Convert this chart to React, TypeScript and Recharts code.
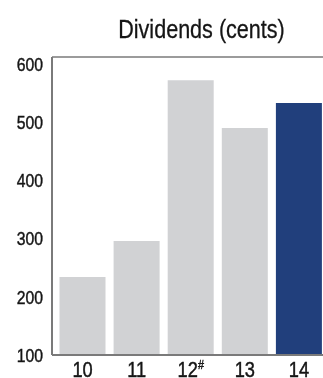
import React from "react";
import { BarChart, Bar, XAxis, YAxis, Cell, ReferenceLine, Customized } from "recharts";

const years = ["10", "11", "12#", "13", "14"];
const dividends = [234, 296, 572, 490, 533];
const highlight = [false, false, false, false, true];
const yTicks = [100, 200, 300, 400, 500, 600];
const title = "Dividends (cents)";

const data = years.map((y, i) => ({ year: y, value: dividends[i], hi: highlight[i] }));

const FONT = "'Liberation Sans', Arial, sans-serif";
const SX = 0.83;
const GREY = "#d1d2d4";
const BLUE = "#213f7c";
const AXIS = "#7a7a7a";
const TEXT = "#151515";
const THICK = 0.45;

const XTick = (props: any) => {
  const { x, y, payload } = props;
  const v: string = payload.value;
  const hasSup = v.endsWith("#");
  const main = hasSup ? v.slice(0, -1) : v;
  return (
    <text
      transform={`translate(${x},${y}) scale(${SX},1)`}
      x={0}
      y={0}
      dy="0.71em"
      textAnchor="middle"
      fontFamily={FONT}
      fontSize={22}
      fill={TEXT}
      stroke={TEXT}
      strokeWidth={THICK}
    >
      <tspan>{main}</tspan>
      {hasSup && (
        <tspan fontSize={13} dy="-0.55em">#</tspan>
      )}
    </text>
  );
};

const YTick = (props: any) => {
  const { x, y, payload } = props;
  return (
    <text
      transform={`translate(${x},${y}) scale(${SX},1)`}
      x={0}
      y={0}
      dy="0.355em"
      textAnchor="end"
      fontFamily={FONT}
      fontSize={19}
      fill={TEXT}
      stroke={TEXT}
      strokeWidth={THICK}
    >
      {payload.value}
    </text>
  );
};

export default function App() {
  return (
    <div style={{ position: "fixed", left: 0, top: 0, width: 323, height: 378, overflow: "hidden" }}>
      <BarChart
        width={326}
        height={378}
        data={data}
        margin={{ top: 57, right: 0, bottom: 0, left: 0 }}
      >
        <Customized
          component={() => (
            <text
              transform={`translate(201.5,38) scale(${SX},1)`}
              x={0}
              y={0}
              textAnchor="middle"
              fontFamily={FONT}
              fontSize={26}
              fill={TEXT}
              stroke={TEXT}
              strokeWidth={0.3}
            >
              {title}
            </text>
          )}
        />
        <XAxis
          dataKey="year"
          tickLine={false}
          tickSize={0}
          tickMargin={6}
          axisLine={{ stroke: AXIS, strokeWidth: 2 }}
          padding={{ left: 3.5, right: 0 }}
          tick={<XTick />}
          height={23}
          interval={0}
        />
        <YAxis
          domain={[100, 612]}
          ticks={yTicks}
          width={52}
          tickLine={false}
          tickSize={0}
          tickMargin={9}
          axisLine={{ stroke: AXIS, strokeWidth: 2 }}
          tick={<YTick />}
          allowDataOverflow
        />
        <ReferenceLine y={612} stroke={AXIS} strokeWidth={1.5} ifOverflow="extendDomain" />
        <Bar dataKey="value" barSize={46} isAnimationActive={false}>
          {data.map((d, i) => (
            <Cell key={i} fill={d.hi ? BLUE : GREY} />
          ))}
        </Bar>
      </BarChart>
    </div>
  );
}
